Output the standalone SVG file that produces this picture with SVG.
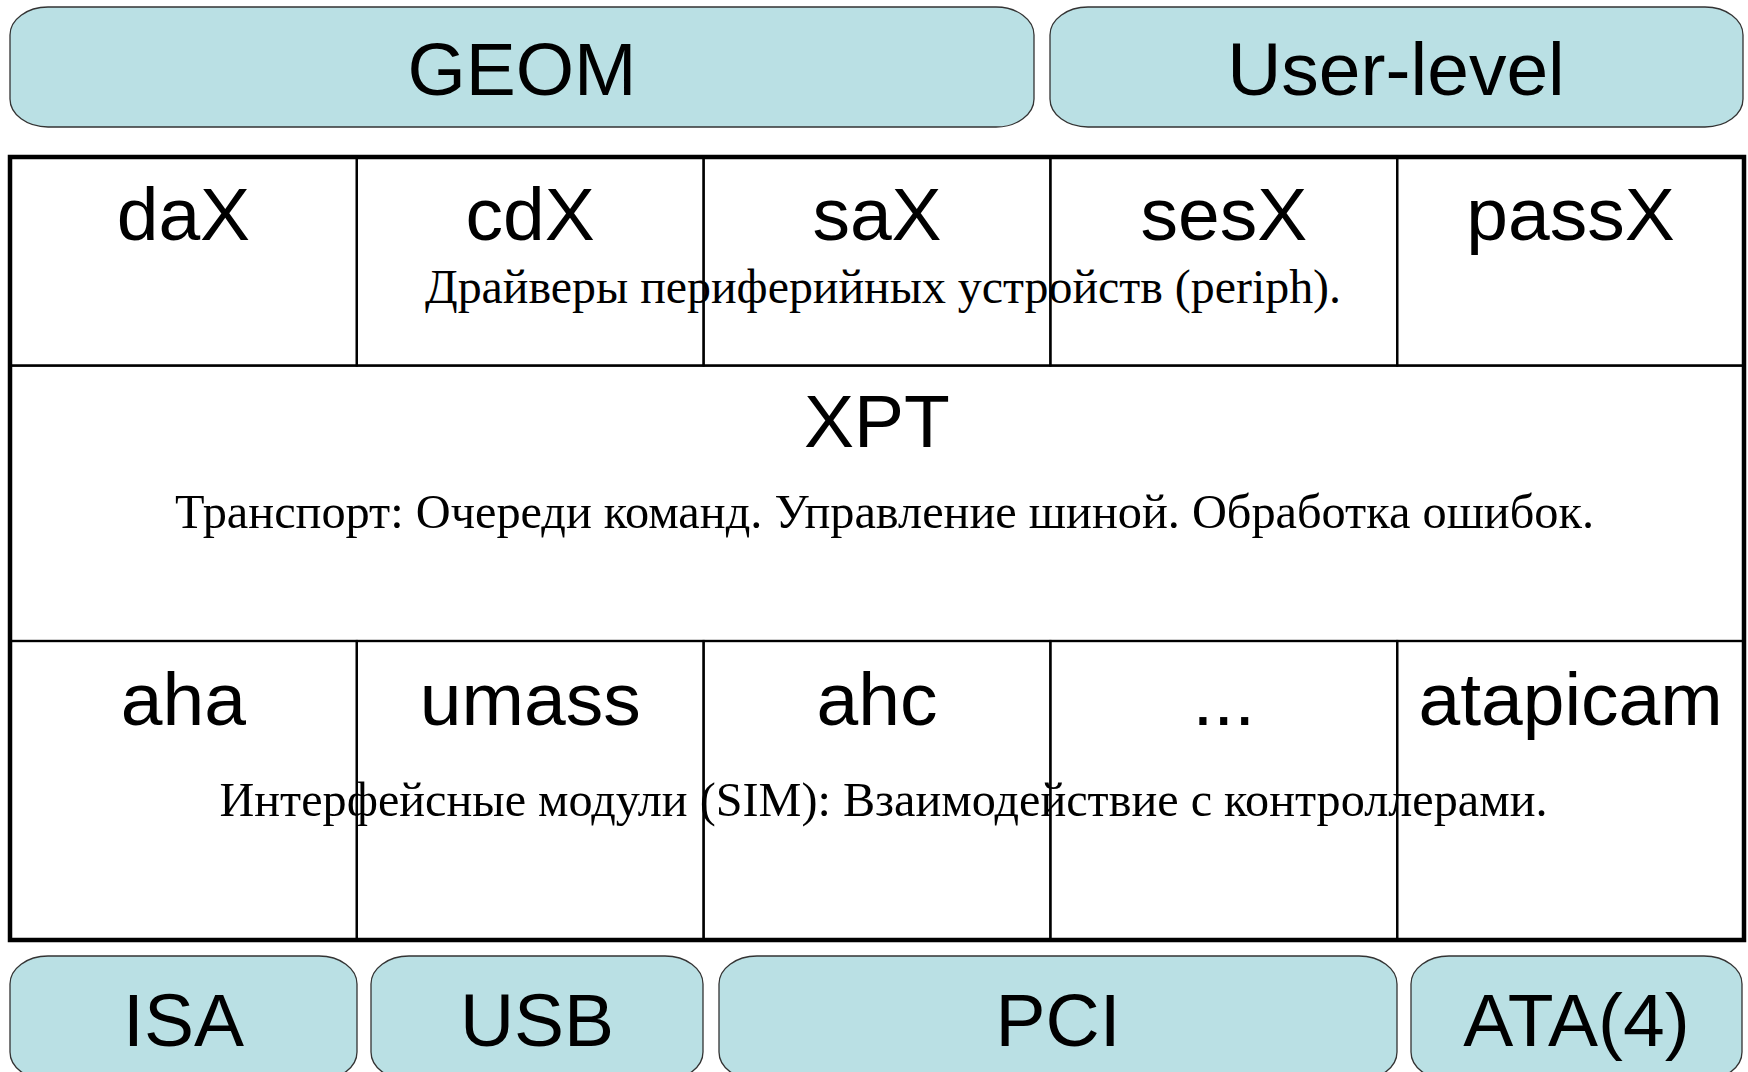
<svg xmlns="http://www.w3.org/2000/svg" width="1748" height="1072" viewBox="0 0 1748 1072">
<style>
.box{fill:#bae0e4;stroke:#333333;stroke-width:1.3}
.lbl{font-family:"Liberation Sans",Arial,sans-serif;font-size:75px;fill:#000;text-anchor:middle}
.desc{font-family:"Liberation Serif","Times New Roman",serif;font-size:48px;fill:#000;text-anchor:middle}
.cell{fill:none;stroke:#000;stroke-width:2.2}
.outer{fill:none;stroke:#000;stroke-width:4.5}
</style>
<rect width="1748" height="1072" fill="#ffffff"/>
<g id="geom"><rect class="box" x="10" y="7" width="1024" height="120" rx="38" ry="28"/><text class="lbl" x="522" y="95">GEOM</text></g>
<g id="user-level"><rect class="box" x="1050" y="7" width="693" height="120" rx="38" ry="28"/><text class="lbl" x="1396" y="95">User-level</text></g>
<g id="periph">
<g id="dax"><rect class="cell" x="10" y="157" width="346.8" height="208.6"/><text class="lbl" x="183.4" y="240">daX</text></g>
<g id="cdx"><rect class="cell" x="356.8" y="157" width="346.8" height="208.6"/><text class="lbl" x="530.2" y="240">cdX</text></g>
<g id="sax"><rect class="cell" x="703.6" y="157" width="346.8" height="208.6"/><text class="lbl" x="877" y="240">saX</text></g>
<g id="sesx"><rect class="cell" x="1050.4" y="157" width="346.8" height="208.6"/><text class="lbl" x="1223.8" y="240">sesX</text></g>
<g id="passx"><rect class="cell" x="1397.2" y="157" width="346.8" height="208.6"/><text class="lbl" x="1570.6" y="240">passX</text></g>
<text class="desc" x="883" y="303" textLength="916" lengthAdjust="spacingAndGlyphs">Драйверы периферийных устройств (periph).</text>
</g>
<g id="xpt"><rect class="cell" x="10" y="365.6" width="1734" height="275.4"/><text class="lbl" x="877" y="447">XPT</text><text class="desc" x="884.5" y="528" textLength="1419" lengthAdjust="spacingAndGlyphs">Транспорт: Очереди команд. Управление шиной. Обработка ошибок.</text></g>
<g id="sim">
<g id="aha"><rect class="cell" x="10" y="641" width="346.8" height="299"/><text class="lbl" x="183.4" y="725">aha</text></g>
<g id="umass"><rect class="cell" x="356.8" y="641" width="346.8" height="299"/><text class="lbl" x="530.2" y="725">umass</text></g>
<g id="ahc"><rect class="cell" x="703.6" y="641" width="346.8" height="299"/><text class="lbl" x="877" y="725">ahc</text></g>
<g id="etc"><rect class="cell" x="1050.4" y="641" width="346.8" height="299"/><text class="lbl" x="1223.8" y="725">...</text></g>
<g id="atapicam"><rect class="cell" x="1397.2" y="641" width="346.8" height="299"/><text class="lbl" x="1570.6" y="725">atapicam</text></g>
<text class="desc" x="883.5" y="816" textLength="1328" lengthAdjust="spacingAndGlyphs">Интерфейсные модули (SIM): Взаимодействие с контроллерами.</text>
</g>
<rect class="outer" x="10" y="157" width="1734" height="783"/>
<g id="isa"><rect class="box" x="10" y="956" width="347" height="124" rx="38" ry="28"/><text class="lbl" x="183.5" y="1046">ISA</text></g>
<g id="usb"><rect class="box" x="371" y="956" width="332" height="124" rx="38" ry="28"/><text class="lbl" x="537" y="1046">USB</text></g>
<g id="pci"><rect class="box" x="719" y="956" width="678" height="124" rx="38" ry="28"/><text class="lbl" x="1058" y="1046">PCI</text></g>
<g id="ata"><rect class="box" x="1411" y="956" width="331" height="124" rx="38" ry="28"/><text class="lbl" x="1576.5" y="1046">ATA(4)</text></g>
<g id="connectors"/>
</svg>
